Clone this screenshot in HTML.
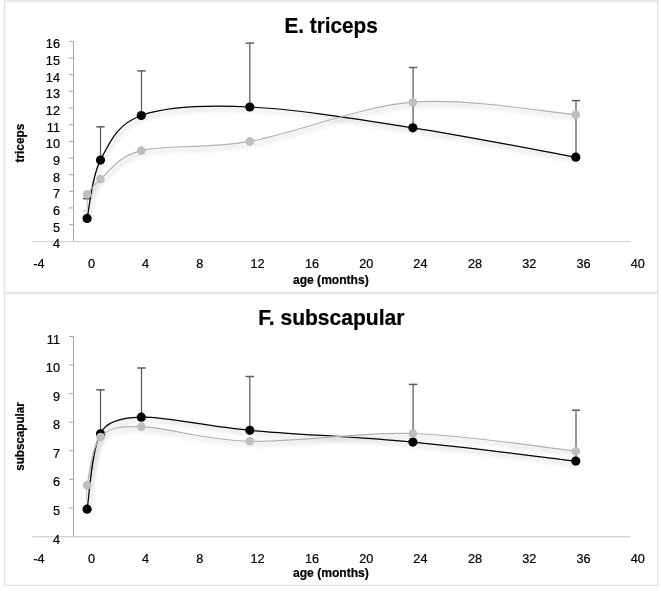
<!DOCTYPE html>
<html><head><meta charset="utf-8"><style>
html,body{margin:0;padding:0;background:#fff;}
body{width:661px;height:591px;overflow:hidden;}
svg{display:block;}
text{font-family:"Liberation Sans",sans-serif;fill:#000;stroke:#000;stroke-width:0.22px;}
</style></head><body>
<svg width="661" height="591" viewBox="0 0 661 591">
<defs>
<filter id="sh" x="-10%" y="-30%" width="130%" height="180%">
<feGaussianBlur in="SourceAlpha" stdDeviation="2.4"/>
<feOffset dx="1.5" dy="3" result="b"/>
<feComponentTransfer><feFuncA type="linear" slope="0.3"/></feComponentTransfer>
<feMerge><feMergeNode/><feMergeNode in="SourceGraphic"/></feMerge>
</filter>
</defs>
<rect x="0" y="0" width="661" height="591" fill="#fff"/>

<rect x="4.5" y="0.9" width="653.3" height="291.6" fill="none" stroke="#e5e5e5" stroke-width="1.6"/>
<rect x="4.5" y="293.6" width="653.3" height="291.8" fill="none" stroke="#e2e2e2" stroke-width="1.2"/>
<line x1="32.3" y1="241.60" x2="630.4" y2="241.60" stroke="#d6d6d6" stroke-width="1.4"/>
<line x1="73.5" y1="41.40" x2="73.5" y2="241.30" stroke="#a8a8a8" stroke-width="1"/>
<text transform="translate(52.95,248.30)" font-size="12.70">4</text>
<line x1="69" y1="224.64" x2="73.5" y2="224.64" stroke="#a8a8a8" stroke-width="1"/>
<text transform="translate(52.95,231.64)" font-size="12.70">5</text>
<line x1="69" y1="207.98" x2="73.5" y2="207.98" stroke="#a8a8a8" stroke-width="1"/>
<text transform="translate(52.95,214.98)" font-size="12.70">6</text>
<line x1="69" y1="191.33" x2="73.5" y2="191.33" stroke="#a8a8a8" stroke-width="1"/>
<text transform="translate(52.95,198.33)" font-size="12.70">7</text>
<line x1="69" y1="174.67" x2="73.5" y2="174.67" stroke="#a8a8a8" stroke-width="1"/>
<text transform="translate(52.95,181.67)" font-size="12.70">8</text>
<line x1="69" y1="158.01" x2="73.5" y2="158.01" stroke="#a8a8a8" stroke-width="1"/>
<text transform="translate(52.95,165.01)" font-size="12.70">9</text>
<line x1="69" y1="141.35" x2="73.5" y2="141.35" stroke="#a8a8a8" stroke-width="1"/>
<text transform="translate(45.87,148.35)" font-size="12.70">10</text>
<line x1="69" y1="124.69" x2="73.5" y2="124.69" stroke="#a8a8a8" stroke-width="1"/>
<text transform="translate(46.82,131.69)" font-size="12.70">11</text>
<line x1="69" y1="108.03" x2="73.5" y2="108.03" stroke="#a8a8a8" stroke-width="1"/>
<text transform="translate(45.87,115.03)" font-size="12.70">12</text>
<line x1="69" y1="91.38" x2="73.5" y2="91.38" stroke="#a8a8a8" stroke-width="1"/>
<text transform="translate(45.87,98.38)" font-size="12.70">13</text>
<line x1="69" y1="74.72" x2="73.5" y2="74.72" stroke="#a8a8a8" stroke-width="1"/>
<text transform="translate(45.87,81.72)" font-size="12.70">14</text>
<line x1="69" y1="58.06" x2="73.5" y2="58.06" stroke="#a8a8a8" stroke-width="1"/>
<text transform="translate(45.87,65.06)" font-size="12.70">15</text>
<line x1="69" y1="41.40" x2="73.5" y2="41.40" stroke="#a8a8a8" stroke-width="1"/>
<text transform="translate(45.87,48.40)" font-size="12.70">16</text>
<text transform="translate(33.15,268.30)" font-size="12.70">-4</text>
<text transform="translate(87.88,268.30)" font-size="12.70">0</text>
<text transform="translate(141.98,268.30)" font-size="12.70">4</text>
<text transform="translate(196.18,268.30)" font-size="12.70">8</text>
<text transform="translate(250.44,268.30)" font-size="12.70">12</text>
<text transform="translate(305.04,268.30)" font-size="12.70">16</text>
<text transform="translate(359.14,268.30)" font-size="12.70">20</text>
<text transform="translate(413.34,268.30)" font-size="12.70">24</text>
<text transform="translate(467.94,268.30)" font-size="12.70">28</text>
<text transform="translate(522.14,268.30)" font-size="12.70">32</text>
<text transform="translate(576.44,268.30)" font-size="12.70">36</text>
<text transform="translate(630.74,268.30)" font-size="12.70">40</text>
<text transform="translate(293.00,283.80) scale(0.9620,1)" font-size="12.55" font-weight="bold">age (months)</text>
<text transform="translate(284.40,33.00) scale(0.9400,1)" font-size="22.07" font-weight="bold">E. triceps</text>
<text transform="translate(24.10,162.40) rotate(-90) scale(0.9352,1)" font-size="12.60" font-weight="bold">triceps</text>
<path d="M87.10,218.40 C89.33,208.68 91.47,177.25 100.50,160.10 C109.53,142.95 116.42,124.35 141.30,115.50 C166.18,106.65 204.53,104.95 249.80,107.00 C295.07,109.05 358.57,119.43 412.90,127.80 C467.23,136.17 548.65,152.30 575.80,157.20" fill="none" stroke="#000" stroke-width="1.25" filter="url(#sh)"/>
<line x1="87.20" y1="198.70" x2="87.20" y2="210.80" stroke="#c4c4c4" stroke-width="1.2"/>
<line x1="83.00" y1="210.80" x2="88.00" y2="210.80" stroke="#cfcfcf" stroke-width="1.3"/>
<line x1="83.10" y1="198.70" x2="91.30" y2="198.70" stroke="#333" stroke-width="1.3"/>
<line x1="100.50" y1="160.10" x2="100.50" y2="126.80" stroke="#555" stroke-width="1.2"/>
<line x1="96.30" y1="126.80" x2="104.70" y2="126.80" stroke="#5c5c5c" stroke-width="1.5"/>
<line x1="141.50" y1="115.50" x2="141.50" y2="70.90" stroke="#555" stroke-width="1.2"/>
<line x1="137.30" y1="70.90" x2="145.70" y2="70.90" stroke="#5c5c5c" stroke-width="1.5"/>
<line x1="249.80" y1="107.00" x2="249.80" y2="43.10" stroke="#555" stroke-width="1.2"/>
<line x1="245.60" y1="43.10" x2="254.00" y2="43.10" stroke="#5c5c5c" stroke-width="1.5"/>
<line x1="413.10" y1="127.80" x2="413.10" y2="67.50" stroke="#555" stroke-width="1.2"/>
<line x1="408.90" y1="67.50" x2="417.30" y2="67.50" stroke="#5c5c5c" stroke-width="1.5"/>
<line x1="576.00" y1="157.20" x2="576.00" y2="100.60" stroke="#555" stroke-width="1.2"/>
<line x1="571.80" y1="100.60" x2="580.20" y2="100.60" stroke="#5c5c5c" stroke-width="1.5"/>
<circle cx="87.10" cy="218.40" r="4.6" fill="#000"/>
<circle cx="100.50" cy="160.10" r="4.6" fill="#000"/>
<circle cx="141.30" cy="115.50" r="4.6" fill="#000"/>
<circle cx="249.80" cy="107.00" r="4.6" fill="#000"/>
<circle cx="412.90" cy="127.80" r="4.6" fill="#000"/>
<circle cx="575.80" cy="157.20" r="4.6" fill="#000"/>
<path d="M87.10,194.40 C89.33,191.85 92.59,185.49 100.50,179.10 C109.53,171.80 117.17,156.69 141.30,150.60 C166.18,144.32 204.53,149.47 249.80,141.40 C295.07,133.33 358.57,106.67 412.90,102.20 C467.23,97.73 548.65,112.53 575.80,114.60" fill="none" stroke="#b0b0b0" stroke-width="1.2" filter="url(#sh)"/>
<circle cx="87.10" cy="194.40" r="4.3" fill="#bebebe"/>
<circle cx="100.50" cy="179.10" r="4.3" fill="#bebebe"/>
<circle cx="141.30" cy="150.60" r="4.3" fill="#bebebe"/>
<circle cx="249.80" cy="141.40" r="4.3" fill="#bebebe"/>
<circle cx="412.90" cy="102.20" r="4.3" fill="#bebebe"/>
<circle cx="575.80" cy="114.60" r="4.3" fill="#bebebe"/>
<line x1="32.3" y1="536.80" x2="630.4" y2="536.80" stroke="#d6d6d6" stroke-width="1.4"/>
<line x1="73.5" y1="336.50" x2="73.5" y2="536.50" stroke="#a8a8a8" stroke-width="1"/>
<text transform="translate(52.95,543.50)" font-size="12.70">4</text>
<line x1="69" y1="507.93" x2="73.5" y2="507.93" stroke="#a8a8a8" stroke-width="1"/>
<text transform="translate(52.95,514.93)" font-size="12.70">5</text>
<line x1="69" y1="479.36" x2="73.5" y2="479.36" stroke="#a8a8a8" stroke-width="1"/>
<text transform="translate(52.95,486.36)" font-size="12.70">6</text>
<line x1="69" y1="450.79" x2="73.5" y2="450.79" stroke="#a8a8a8" stroke-width="1"/>
<text transform="translate(52.95,457.79)" font-size="12.70">7</text>
<line x1="69" y1="422.21" x2="73.5" y2="422.21" stroke="#a8a8a8" stroke-width="1"/>
<text transform="translate(52.95,429.21)" font-size="12.70">8</text>
<line x1="69" y1="393.64" x2="73.5" y2="393.64" stroke="#a8a8a8" stroke-width="1"/>
<text transform="translate(52.95,400.64)" font-size="12.70">9</text>
<line x1="69" y1="365.07" x2="73.5" y2="365.07" stroke="#a8a8a8" stroke-width="1"/>
<text transform="translate(45.87,372.07)" font-size="12.70">10</text>
<line x1="69" y1="336.50" x2="73.5" y2="336.50" stroke="#a8a8a8" stroke-width="1"/>
<text transform="translate(46.82,343.50)" font-size="12.70">11</text>
<text transform="translate(33.15,562.90)" font-size="12.70">-4</text>
<text transform="translate(87.88,562.90)" font-size="12.70">0</text>
<text transform="translate(141.98,562.90)" font-size="12.70">4</text>
<text transform="translate(196.18,562.90)" font-size="12.70">8</text>
<text transform="translate(250.44,562.90)" font-size="12.70">12</text>
<text transform="translate(305.04,562.90)" font-size="12.70">16</text>
<text transform="translate(359.14,562.90)" font-size="12.70">20</text>
<text transform="translate(413.34,562.90)" font-size="12.70">24</text>
<text transform="translate(467.94,562.90)" font-size="12.70">28</text>
<text transform="translate(522.14,562.90)" font-size="12.70">32</text>
<text transform="translate(576.44,562.90)" font-size="12.70">36</text>
<text transform="translate(630.74,562.90)" font-size="12.70">40</text>
<text transform="translate(293.00,576.50) scale(0.9633,1)" font-size="12.55" font-weight="bold">age (months)</text>
<text transform="translate(258.20,325.30) scale(0.9669,1)" font-size="21.79" font-weight="bold">F. subscapular</text>
<text transform="translate(24.40,470.80) rotate(-90) scale(0.9240,1)" font-size="12.60" font-weight="bold">subscapular</text>
<path d="M87.10,509.20 C89.33,496.63 91.47,449.13 100.50,433.80 C104.25,424.32 117.71,417.75 141.30,417.20 C166.18,416.62 204.53,426.15 249.80,430.30 C295.07,434.45 358.57,436.97 412.90,442.10 C467.23,447.23 548.65,457.93 575.80,461.10" fill="none" stroke="#000" stroke-width="1.25" filter="url(#sh)"/>
<line x1="100.50" y1="433.80" x2="100.50" y2="389.90" stroke="#555" stroke-width="1.2"/>
<line x1="96.30" y1="389.90" x2="104.70" y2="389.90" stroke="#5c5c5c" stroke-width="1.5"/>
<line x1="141.50" y1="417.20" x2="141.50" y2="368.00" stroke="#555" stroke-width="1.2"/>
<line x1="137.30" y1="368.00" x2="145.70" y2="368.00" stroke="#5c5c5c" stroke-width="1.5"/>
<line x1="249.80" y1="430.30" x2="249.80" y2="376.50" stroke="#555" stroke-width="1.2"/>
<line x1="245.60" y1="376.50" x2="254.00" y2="376.50" stroke="#5c5c5c" stroke-width="1.5"/>
<line x1="413.10" y1="442.10" x2="413.10" y2="384.40" stroke="#555" stroke-width="1.2"/>
<line x1="408.90" y1="384.40" x2="417.30" y2="384.40" stroke="#5c5c5c" stroke-width="1.5"/>
<line x1="576.00" y1="461.10" x2="576.00" y2="410.20" stroke="#555" stroke-width="1.2"/>
<line x1="571.80" y1="410.20" x2="580.20" y2="410.20" stroke="#5c5c5c" stroke-width="1.5"/>
<line x1="86.7" y1="488.20" x2="86.7" y2="500.20" stroke="#c8c8c8" stroke-width="1.2"/>
<circle cx="87.10" cy="509.20" r="4.6" fill="#000"/>
<circle cx="100.50" cy="433.80" r="4.6" fill="#000"/>
<circle cx="141.30" cy="417.20" r="4.6" fill="#000"/>
<circle cx="249.80" cy="430.30" r="4.6" fill="#000"/>
<circle cx="412.90" cy="442.10" r="4.6" fill="#000"/>
<circle cx="575.80" cy="461.10" r="4.6" fill="#000"/>
<path d="M87.10,485.20 C89.33,477.17 91.47,446.75 100.50,437.00 C109.53,427.25 120.27,426.09 141.30,426.70 C166.18,427.42 204.53,440.17 249.80,441.30 C295.07,442.43 358.57,431.85 412.90,433.50 C467.23,435.15 548.65,448.25 575.80,451.20" fill="none" stroke="#b0b0b0" stroke-width="1.2" filter="url(#sh)"/>
<circle cx="87.10" cy="485.20" r="4.3" fill="#bebebe"/>
<circle cx="100.50" cy="437.00" r="4.3" fill="#bebebe"/>
<circle cx="141.30" cy="426.70" r="4.3" fill="#bebebe"/>
<circle cx="249.80" cy="441.30" r="4.3" fill="#bebebe"/>
<circle cx="412.90" cy="433.50" r="4.3" fill="#bebebe"/>
<circle cx="575.80" cy="451.20" r="4.3" fill="#bebebe"/>
</svg></body></html>
